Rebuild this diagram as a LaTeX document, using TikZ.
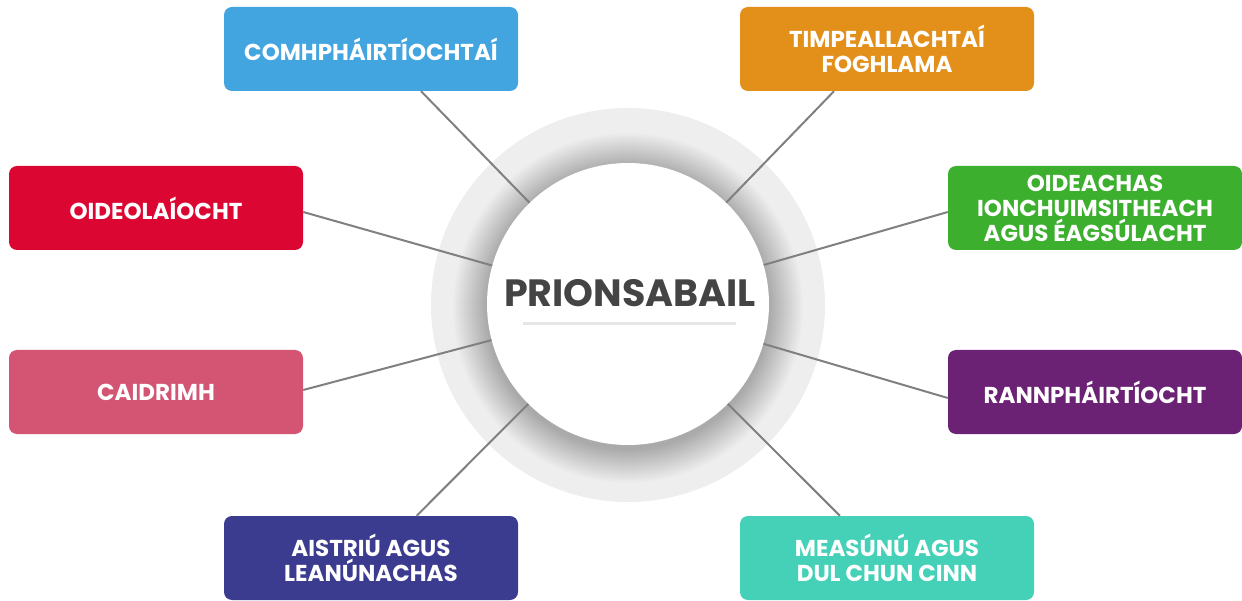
\documentclass[tikz,border=0pt]{standalone}
\usepackage{fontspec}
\newfontfamily\pop{Poppins}
\usetikzlibrary{calc}
\definecolor{cblue}{HTML}{42A5E0}
\definecolor{corange}{HTML}{E2901A}
\definecolor{cred}{HTML}{DC0632}
\definecolor{cgreen}{HTML}{3CAF2F}
\definecolor{cpink}{HTML}{D35473}
\definecolor{cpurple}{HTML}{6C2274}
\definecolor{cnavy}{HTML}{3B3C8F}
\definecolor{cteal}{HTML}{44D1B7}
\definecolor{cline}{HTML}{808080}
\definecolor{cring}{HTML}{EEEEEE}
\definecolor{ctitle}{HTML}{444444}
\definecolor{cunder}{HTML}{E6E6E6}
\tikzset{
  box/.style={rounded corners=8pt, minimum width=294pt, minimum height=84pt, inner sep=0pt,
    text=white, align=center, font=\pop\bfseries\fontsize{23}{25}\selectfont},
  conn/.style={draw=cline, line width=2pt},
}
\begin{document}
\begin{tikzpicture}[x=1pt,y=-1pt]
\useasboundingbox (0,0) rectangle (1242,601);
% ring
\fill[cring] (628,305) circle (197);
\foreach \i in {0,...,33}{
  \fill[black, opacity=0.008] (628,308) circle ({141+34-\i});
}
\node[circle, fill=white, minimum size=282pt, inner sep=0pt] (c) at (628,304) {};
\node[anchor=base, text=ctitle, font=\pop\bfseries\fontsize{38}{44}\selectfont] (title) at (630,307) {PRIONSABAIL};
\coordinate (ul) at (523,324);
\coordinate (ur) at (736,324);
\draw[cunder, line width=3pt] (ul) -- (ur);
% boxes
\node[box, fill=cblue] (b1) at (371,49) {COMHPHÁIRTÍOCHTAÍ};
\node[box, fill=corange] (b2) at (887,49) {TIMPEALLACHTAÍ\\FOGHLAMA};
\node[box, fill=cred] (b3) at (156,208) {OIDEOLAÍOCHT};
\node[box, fill=cgreen] (b4) at (1095,208) {OIDEACHAS\\IONCHUIMSITHEACH\\AGUS ÉAGSÚLACHT};
\node[box, fill=cpink] (b5) at (156,392) {CAIDRIMH};
\node[box, fill=cpurple] (b6) at (1095,392) {RANNPHÁIRTÍOCHT};
\node[box, fill=cnavy] (b7) at (371,558) {AISTRIÚ AGUS\\LEANÚNACHAS};
\node[box, fill=cteal] (b8) at (887,558) {MEASÚNÚ AGUS\\DUL CHUN CINN};
% connectors
\coordinate (p1) at ($(b1.south west)!0.67!(b1.south east)$);
\coordinate (p2) at ($(b2.south west)!0.32!(b2.south east)$);
\coordinate (p3) at ($(b3.east)+(0,4)$);
\coordinate (p4) at ($(b4.west)+(0,4)$);
\coordinate (p5) at ($(b5.east)+(0,-2)$);
\coordinate (p6) at ($(b6.west)+(0,6)$);
\coordinate (p7) at ($(b7.north west)!0.655!(b7.north east)$);
\coordinate (p8) at ($(b8.north west)!0.34!(b8.north east)$);
\foreach \p in {p1,p2,p3,p4,p5,p6,p7,p8}{
  \draw[conn] (\p) -- (c);
}
\end{tikzpicture}
\end{document}
